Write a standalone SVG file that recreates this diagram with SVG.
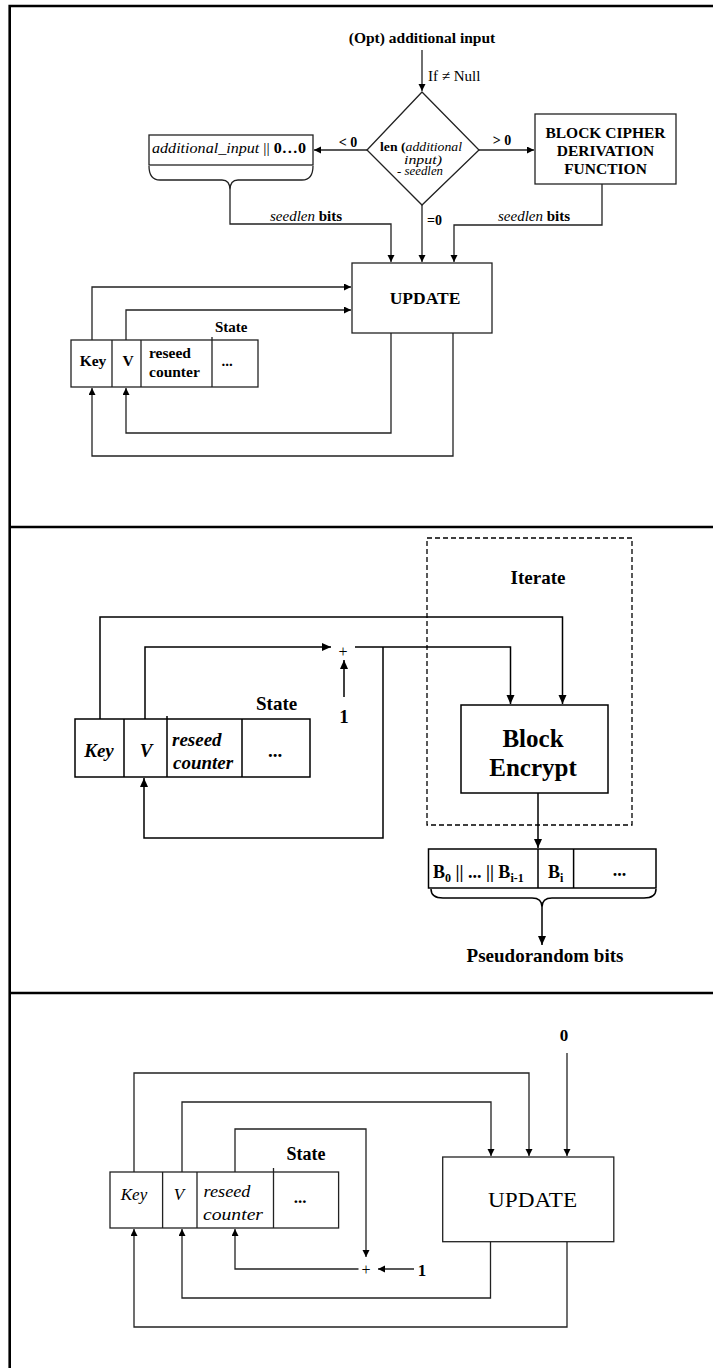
<svg xmlns="http://www.w3.org/2000/svg" width="713" height="1368" viewBox="0 0 713 1368">
<style>
text{font-family:"Liberation Serif","Times New Roman",serif;fill:#000}
.b{font-weight:bold}
.i{font-style:italic}
.c{text-anchor:middle}
.frame{stroke:#000;stroke-width:2.6;fill:none}
.ln{stroke:#222;stroke-width:1.3;fill:none}
.ln2{stroke:#000;stroke-width:1.5;fill:none}
.bx{fill:#fff;stroke:#222;stroke-width:1.3}
.bx2{fill:#fff;stroke:#000;stroke-width:1.5}
.dash{fill:none;stroke:#000;stroke-width:1.3;stroke-dasharray:5 3}
</style>
<defs>
<marker id="ah" markerUnits="userSpaceOnUse" markerWidth="8" markerHeight="8" refX="7" refY="3.5" orient="auto"><path d="M0,0 L7,3.5 L0,7 z" fill="#000"/></marker>
<marker id="ah2" markerUnits="userSpaceOnUse" markerWidth="10" markerHeight="10" refX="9" refY="4" orient="auto"><path d="M0,0 L9,4 L0,8 z" fill="#000"/></marker>
</defs>
<rect width="713" height="1368" fill="#fff"/>
<g id="frame">
<path class="frame" d="M9.7,1368 V6 H713"/>
<path class="frame" d="M9.7,527 H713"/>
<path class="frame" d="M9.7,993 H713"/>
</g>

<!-- ============ TOP PANEL ============ -->
<g id="connectors-top">
<path class="ln" d="M422,50 V91" marker-end="url(#ah)"/>
<path class="ln" d="M367,150 H314" marker-end="url(#ah)"/>
<path class="ln" d="M479,150 H534" marker-end="url(#ah)"/>
<path class="ln" d="M149,166 Q149,180 160,180 H222 Q230,180 230,190 Q230,180 238,180 H302 Q313,180 313,166"/>
<path class="ln" d="M230,190 V224 H391 V262" marker-end="url(#ah)"/>
<path class="ln" d="M422,205 V262" marker-end="url(#ah)"/>
<path class="ln" d="M602,184 V225 H454 V262" marker-end="url(#ah)"/>
<path class="ln" d="M92,340 V287 H351" marker-end="url(#ah)"/>
<path class="ln" d="M126,340 V310 H351" marker-end="url(#ah)"/>
<path class="ln" d="M391,333 V433 H126 V388" marker-end="url(#ah)"/>
<path class="ln" d="M453,333 V456 H92 V388" marker-end="url(#ah)"/>
</g>
<g id="opt-input">
<text class="b c" x="422" y="43" font-size="15.5">(Opt) additional input</text>
<text x="428" y="81" font-size="15">If ≠ Null</text>
</g>
<g id="decision">
<path class="bx" d="M422,92 L479,150 L422,205 L367,150 z"/>
<text x="380" y="151" font-size="11.5" textLength="82" lengthAdjust="spacingAndGlyphs"><tspan class="b">len (</tspan><tspan class="i">additional</tspan></text>
<text class="i" x="404" y="164" font-size="11.5" textLength="38" lengthAdjust="spacingAndGlyphs">input)</text>
<text x="397" y="175" font-size="11.5" textLength="46" lengthAdjust="spacingAndGlyphs">- <tspan class="i">seedlen</tspan></text>
<text class="b c" x="348" y="147" font-size="14">&lt; 0</text>
<text class="b c" x="502" y="145" font-size="14">&gt; 0</text>
<text class="b" x="427" y="225" font-size="14">=0</text>
</g>
<g id="pad-box">
<rect class="bx" x="149" y="135" width="164" height="30"/>
<text x="152" y="153" font-size="15" textLength="154" lengthAdjust="spacingAndGlyphs"><tspan class="i">additional_input</tspan> || <tspan class="b">0…0</tspan></text>
</g>
<g id="df-box">
<rect class="bx" x="535" y="114" width="141" height="70"/>
<text class="b c" x="605.5" y="138" font-size="15.5">BLOCK CIPHER</text>
<text class="b c" x="605.5" y="156" font-size="15.5">DERIVATION</text>
<text class="b c" x="605.5" y="174" font-size="15.5">FUNCTION</text>
</g>
<g id="seedlen-labels">
<text x="270" y="221" font-size="15"><tspan class="i">seedlen</tspan> <tspan class="b">bits</tspan></text>
<text x="498" y="221" font-size="15"><tspan class="i">seedlen</tspan> <tspan class="b">bits</tspan></text>
</g>
<g id="update-top">
<rect class="bx" x="352" y="263" width="140" height="70"/>
<text class="b c" x="425" y="304" font-size="17.5">UPDATE</text>
</g>
<g id="state-top">
<rect class="bx" x="71" y="340" width="187" height="47"/>
<path class="ln" d="M112,340 V387 M141,340 V387 M212,337 V387"/>
<text class="b" x="215" y="332" font-size="15">State</text>
<text class="b c" x="93" y="366" font-size="15.5">Key</text>
<text class="b c" x="128" y="366" font-size="15.5">V</text>
<text class="b" x="149" y="358" font-size="15.5">reseed</text>
<text class="b" x="149" y="377" font-size="15.5">counter</text>
<text class="b c" x="227" y="366" font-size="15">...</text>
</g>

<!-- ============ MIDDLE PANEL ============ -->
<g id="iterate">
<rect class="dash" x="427" y="538" width="205" height="287"/>
<text class="b c" x="538" y="584" font-size="19">Iterate</text>
</g>
<g id="connectors-middle">
<path class="ln2" d="M100,719 V617 H562.5 V704" marker-end="url(#ah2)"/>
<path class="ln2" d="M145,719 V647 H331" marker-end="url(#ah2)"/>
<path class="ln2" d="M344,697 V660" marker-end="url(#ah2)"/>
<path class="ln2" d="M355,647 H510.5 V704" marker-end="url(#ah2)"/>
<path class="ln2" d="M383,647 V838 H144 V778" marker-end="url(#ah2)"/>
<path class="ln2" d="M538,793 V848" marker-end="url(#ah2)"/>
<path class="ln2" d="M431,889 Q431,898 443,898 H532 Q542,898 542,907 Q542,898 552,898 H644 Q656,898 656,889"/>
<path class="ln2" d="M542,907 V945" marker-end="url(#ah2)"/>
</g>
<g id="adder-middle">
<text class="c" x="343" y="657" font-size="16">+</text>
<text class="b c" x="344" y="723" font-size="19">1</text>
</g>
<g id="state-middle">
<rect class="bx2" x="75" y="719" width="235" height="58"/>
<path class="ln2" d="M124,719 V777 M167,716 V777 M242,719 V777"/>
<text class="b" x="256" y="710" font-size="19">State</text>
<text class="b i c" x="99" y="757" font-size="19">Key</text>
<text class="b i c" x="146" y="757" font-size="19">V</text>
<text class="b i" x="172" y="746" font-size="19">reseed</text>
<text class="b i" x="173" y="769" font-size="19">counter</text>
<text class="b c" x="275" y="757" font-size="19">...</text>
</g>
<g id="block-encrypt">
<rect class="bx2" x="461" y="705" width="147" height="88"/>
<text class="b c" x="533" y="747" font-size="25">Block</text>
<text class="b c" x="533" y="776" font-size="25">Encrypt</text>
</g>
<g id="output-blocks">
<rect class="bx2" x="428.5" y="849" width="227.5" height="39"/>
<path class="ln2" d="M538,849 V888 M573.6,849 V888"/>
<text class="b" x="433" y="878" font-size="18">B<tspan font-size="12" dy="4">0</tspan><tspan dy="-4"> || ... || B</tspan><tspan font-size="12" dy="4">i-1</tspan></text>
<text class="b" x="548" y="878" font-size="18">B<tspan font-size="12" dy="4">i</tspan></text>
<text class="b c" x="619.5" y="876" font-size="18">...</text>
</g>
<g id="pseudorandom">
<text class="b c" x="545" y="962" font-size="19">Pseudorandom bits</text>
</g>

<!-- ============ BOTTOM PANEL ============ -->
<g id="connectors-bottom">
<path class="ln" d="M567,1053 V1156" marker-end="url(#ah)"/>
<path class="ln" d="M134,1172 V1073 H529 V1156" marker-end="url(#ah)"/>
<path class="ln" d="M182,1172 V1102 H491 V1156" marker-end="url(#ah)"/>
<path class="ln" d="M235,1172 V1129 H366 V1257" marker-end="url(#ah)"/>
<path class="ln" d="M414,1269 H378" marker-end="url(#ah)"/>
<path class="ln" d="M358.5,1269 H235 V1229" marker-end="url(#ah)"/>
<path class="ln" d="M490.5,1242 V1298 H182 V1229" marker-end="url(#ah)"/>
<path class="ln" d="M567,1242 V1327 H134 V1229" marker-end="url(#ah)"/>
</g>
<g id="zero-input">
<text class="b c" x="564" y="1041" font-size="17">0</text>
</g>
<g id="adder-bottom">
<text class="c" x="366" y="1275" font-size="16">+</text>
<text class="b c" x="422" y="1276" font-size="17">1</text>
</g>
<g id="state-bottom">
<rect class="bx" x="110" y="1172" width="228.6" height="56"/>
<path class="ln" d="M162.6,1172 V1228 M197,1172 V1228 M273.5,1168 V1228"/>
<text class="b" x="286.5" y="1160" font-size="18">State</text>
<text class="i c" x="134" y="1200" font-size="17">Key</text>
<text class="i c" x="179" y="1200" font-size="17">V</text>
<text class="i" x="203.5" y="1197" font-size="17" textLength="47" lengthAdjust="spacingAndGlyphs">reseed</text>
<text class="i" x="203" y="1220" font-size="17" textLength="60" lengthAdjust="spacingAndGlyphs">counter</text>
<text class="b c" x="300" y="1203" font-size="17">...</text>
</g>
<g id="update-bottom">
<rect class="bx" x="442.7" y="1157" width="171.1" height="84.7"/>
<text class="c" x="532.6" y="1207" font-size="21" textLength="89" lengthAdjust="spacingAndGlyphs">UPDATE</text>
</g>
</svg>
